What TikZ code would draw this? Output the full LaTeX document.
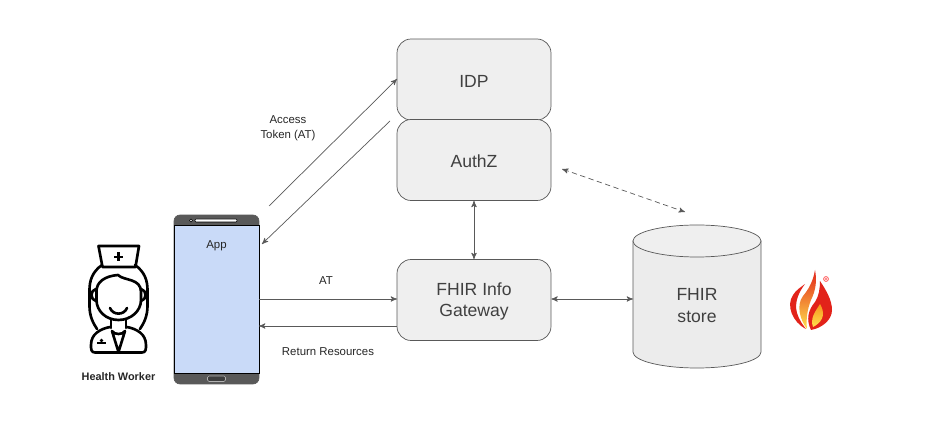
\documentclass[tikz,border=0pt]{standalone}
\usepackage{fontspec}
\setmainfont{Liberation Sans}
\usetikzlibrary{calc}
\usetikzlibrary{arrows}
\usetikzlibrary{shapes.geometric}
\definecolor{boxgray}{HTML}{EFEFEF}
\definecolor{storegray}{HTML}{ECECEC}
\definecolor{linegray}{HTML}{595959}
\definecolor{phonegray}{HTML}{595959}
\definecolor{screenblue}{HTML}{C9DAF8}
\definecolor{flamered}{HTML}{E2231A}
\definecolor{flameorange}{HTML}{F7941D}
\definecolor{flameyellow}{HTML}{FFE14D}
\tikzset{
  service/.style={draw=linegray, fill=boxgray, rounded corners=.28cm, minimum width=3.08cm, minimum height=1.62cm, align=center, font=\fontsize{10}{12}\selectfont, text=black!75},
  small/.style={font=\fontsize{6.5}{8.6}\selectfont, align=center, text=black!85, inner sep=0},
  conn/.style={draw=linegray, line width=.4pt, ->, >=stealth'},
  both/.style={draw=linegray, line width=.4pt, <->, >=stealth'},
  nurse/.style={line width=1.5pt, line cap=round, line join=round, black}
}
\begin{document}
\begin{tikzpicture} [x=.02cm, y=-.02cm]
\useasboundingbox (0,0) rectangle (950,428);
% store
\fill[storegray, draw=linegray, line width=.4pt] (633,241) -- (633,352) arc[start angle=180, end angle=0, x radius=64, y radius=16] -- (761,241) -- cycle;
\draw[fill=boxgray, draw=linegray, line width=.4pt] (697,241) ellipse[x radius=64, y radius=16];
\node[inner sep=0, font=\fontsize{10}{12.2}\selectfont, align=center, text=black!75] (store) at (697,305.5) {FHIR\\store};
\coordinate (storetop) at (685,212);
\coordinate (storeleft) at (633,299);
% boxes
\node[service, text height=9pt] (idp) at (474,79.5) {IDP};
\node[service, text height=9pt] (authz) at (474,160) {AuthZ};
\node[service, text height=21.4pt] (gateway) at (474,300) {FHIR Info\\Gateway};
\coordinate (authzright) at (562,169);
% phone
\node[draw=phonegray, fill=phonegray, rounded corners=.12cm, minimum width=1.7cm, minimum height=3.38cm, inner sep=0] (phone) at (216.5,299.5) {};
\node[draw=black, fill=screenblue, line width=.5pt, minimum width=1.7cm, minimum height=2.96cm, inner sep=0] (screen) at (216.5,299) {};
\node[small] (app) at (216.5,245.5) {App};
\fill[white, draw=black, line width=.3pt, rounded corners=.02cm] (195,219) rectangle (237,222);
\fill[white, draw=black, line width=.3pt] (191,220.5) circle (1.4);
\fill[linegray!70!black, draw=white!70!black, line width=.3pt, rounded corners=.03cm] (207.5,376) rectangle (225.5,381.5);
% arrows
\coordinate (tokenfrom) at (269,206);
\coordinate (tokento) at (397,79);
\coordinate (backfrom) at (390,121);
\coordinate (backto) at (262,244);
\coordinate (atfrom) at (259,299);
\coordinate (atto) at (397,299);
\coordinate (retfrom) at (397,326);
\coordinate (retto) at (259,326);
\draw[conn] (tokenfrom) -- (tokento);
\draw[conn] (backfrom) -- (backto);
\draw[conn] (atfrom) -- (atto);
\draw[conn] (retfrom) -- (retto);
\draw[both] (authz.south) -- (gateway.north);
\draw[both] (gateway.east |- storeleft) -- (storeleft);
\draw[both, dash pattern=on 3pt off 2pt] (authzright) -- (storetop);
% labels
\node[small] (access) at (288,128) {Access\\Token (AT)};
\node[small] (atlabel) at (326,280.5) {AT};
\node[small] (retlabel) at (328,351.5) {Return Resources};
\node[small, font=\fontsize{6.2}{7.8}\selectfont\bfseries] (worker) at (118.5,376.5) {Health Worker};
% nurse
\draw[nurse] (98.5,246) -- (139,246) -- (135.5,267) -- (102.5,267) -- cycle;
\draw[nurse, line width=1.7pt, line cap=butt] (118.5,252.5) -- (118.5,261.5) (114,257) -- (123,257);
\draw[nurse] (102,265) .. controls (92,272) and (89.5,281) .. (89.5,290) -- (89.5,306) .. controls (89.5,316) and (93,323) .. (97,329);
\draw[nurse] (135,265) .. controls (145,272) and (147.5,281) .. (147.5,290) -- (147.5,306) .. controls (147.5,316) and (144,323) .. (140,329);
\draw[nurse] (96.5,292) .. controls (96,282) and (105,276) .. (118,275) .. controls (124,281) and (141,278) .. (141,292) -- (141,300) .. controls (141,311) and (131,320) .. (118.5,320) .. controls (106,320) and (96.5,311) .. (96.5,300) -- cycle;
\draw[nurse] (96,289) .. controls (90,290) and (90,300) .. (96,301);
\draw[nurse] (141,289) .. controls (147,290) and (147,300) .. (141,301);
\draw[nurse] (110,308) .. controls (113,315.5) and (124,315.5) .. (127,308);
\draw[nurse] (111,320) -- (111,328) (126,320) -- (126,328);
\draw[nurse] (110,327) .. controls (100,329) and (91,334) .. (91,345) .. controls (91,349) and (91,352.5) .. (95,352.5) -- (142,352.5) .. controls (146,352.5) and (146,349) .. (146,345) .. controls (146,334) and (137,329) .. (127,327);
\draw[nurse] (112,331) -- (118.5,352) -- (125,331) (112,331) .. controls (114,335) and (123,335) .. (125,331);
\fill[black] (97,342) rectangle (106,344);
\fill[black] (101.5,340.5) circle (1.9);
% flame
\fill[flamered] (806,329) .. controls (792,322) and (786,305) .. (793,295) .. controls (796,290) and (801,287) .. (805,284) .. controls (799,292) and (794,302) .. (797,313) .. controls (799,320) and (803,325) .. (806,329) -- cycle;
\shade[top color=flamered, middle color=flameorange, bottom color=flameyellow] (815,270) .. controls (817,280) and (816,290) .. (811,300) .. controls (807,310) and (806,320) .. (807,329) .. controls (800,320) and (796,305) .. (803,296) .. controls (808,290) and (813,282) .. (815,270) -- cycle;
\fill[flamered] (811,330) .. controls (806,320) and (808,310) .. (815,302) .. controls (819,296) and (820,288) .. (820,281) .. controls (826,290) and (832,300) .. (832,310) .. controls (832,320) and (822,328) .. (811,330) -- cycle;
\shade[top color=flameorange, bottom color=flameyellow] (813,327) .. controls (810,318) and (815,312) .. (820,304) .. controls (824,311) and (826,320) .. (813,327) -- cycle;
\draw[red!60, line width=.5pt, fill=white] (826,279) circle (2.4);
\fill[red!60] (826,279) circle (1.1);
\end{tikzpicture}
\end{document}
